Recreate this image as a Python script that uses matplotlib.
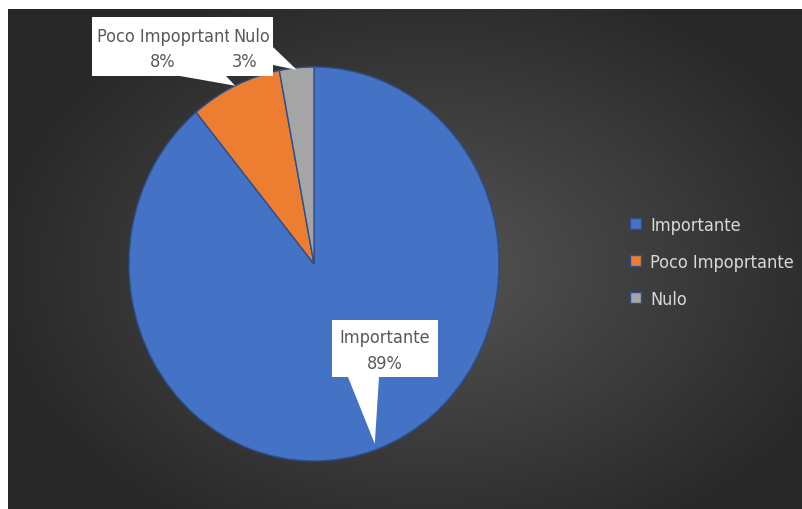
import numpy as np
import matplotlib
matplotlib.use('Agg')
import matplotlib.pyplot as plt
from matplotlib.patches import Polygon
from matplotlib.transforms import Bbox

plt.rcParams['font.family'] = ['Liberation Sans Narrow', 'DejaVu Sans Condensed', 'DejaVu Sans']
plt.rcParams['font.stretch'] = 'condensed'

categories = ['Importante', 'Poco Impoprtante', 'Nulo']
values = [89, 8, 3]
colors = ['#4472C4', '#ED7D31', '#A5A5A5']

W, H = 802, 510
fig = plt.figure(figsize=(W / 100, H / 100), dpi=100, facecolor='white')

# dark radial gradient panel
bg = fig.add_axes([8 / W, 0, (W - 8) / W, (H - 10) / H])
yy, xx = np.mgrid[0:500, 0:794]
d = np.sqrt(((xx - 420) / 430.0) ** 2 + ((yy - 260) / 300.0) ** 2)
shade = np.clip(0.33 - 0.17 * d, 0.16, 0.33)
bg.imshow(np.dstack([shade] * 3), aspect='auto', extent=(0, 1, 0, 1))
bg.set_axis_off()

# pie (slightly taller than wide)
cx, cy, rx, ry = 314, 265, 185, 197
ax = fig.add_axes([(cx - rx) / W, (H - cy - ry) / H, 2 * rx / W, 2 * ry / H])
wedges, _ = ax.pie(values, colors=colors, startangle=90, counterclock=False,
                   wedgeprops=dict(edgecolor='#2d4f8e', linewidth=1.0))
ax.set_aspect('auto')
ax.set_xlim(-1, 1)
ax.set_ylim(-1, 1)
ax.set_axis_off()

# overlay in image pixels for the callouts
ov = fig.add_axes([0, 0, 1, 1])
ov.set_xlim(0, W)
ov.set_ylim(H, 0)
ov.set_axis_off()


def tip(i, r):
    w = wedges[i]
    a = np.deg2rad((w.theta1 + w.theta2) / 2)
    disp = ax.transData.transform((r * np.cos(a), r * np.sin(a)))
    return ov.transData.inverted().transform(disp)


total = sum(values)
pct = [f'{round(100 * v / total)}%' for v in values]
box = dict(facecolor='white', edgecolor='none', zorder=5)
txt = dict(color='#595959', fontsize=13, zorder=6, va='center')

# Importante
t0 = tip(0, 0.97)
ov.add_patch(Polygon([(332, 321), (438, 321), (438, 378), (379, 378), t0,
                      (348, 378), (332, 378)], **box))
ov.text(385, 338, categories[0], ha='center', **txt)
ov.text(385, 364, pct[0], ha='center', **txt)

# Poco Importante
t1 = tip(1, 1.0)
ov.add_patch(Polygon([(92, 18), (229, 18), (229, 77), (226, 77), t1,
                      (180, 77), (92, 77)], **box))
clip = ov.text(97, 37, categories[1], ha='left', clip_on=True, **txt)
clip.set_clip_box(Bbox.from_extents(92, H - 77, 229, H - 18))
ov.text(163, 62, pct[1], ha='center', **txt)

# Nulo
t2 = tip(2, 0.99)
ov.add_patch(Polygon([(229, 18), (273, 18), (273, 48), t2, (273, 66),
                      (273, 77), (229, 77)], **box))
ov.text(233, 37, categories[2], ha='left', **txt)
ov.text(245, 62, pct[2], ha='center', **txt)

leg = fig.legend(wedges, categories, loc='center left',
                 bbox_to_anchor=(614 / W, (H - 263) / H), frameon=False,
                 fontsize=13, labelcolor='#d9d9d9', handlelength=0.6,
                 handleheight=0.6, handletextpad=0.5, labelspacing=1.05)

fig.savefig('out.png', dpi=100, facecolor='white')
